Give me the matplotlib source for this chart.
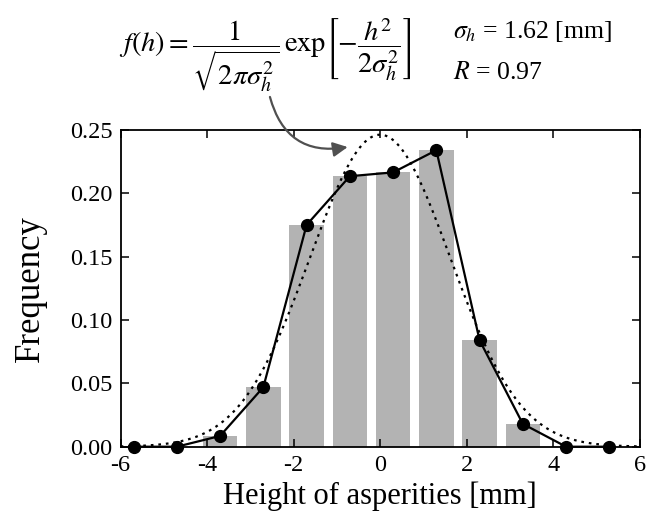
import numpy as np
import matplotlib.pyplot as plt

plt.rcParams['font.family'] = 'serif'
plt.rcParams['font.serif'] = ['Liberation Serif', 'DejaVu Serif']
plt.rcParams['mathtext.fontset'] = 'stix'
plt.rcParams['axes.unicode_minus'] = False

# measured histogram of asperity heights
heights = [-5.7, -4.7, -3.7, -2.7, -1.7, -0.7, 0.3, 1.3, 2.3, 3.3, 4.3, 5.3]
freq = [0.0, 0.0, 0.0085, 0.047, 0.175, 0.2135, 0.2165, 0.234, 0.084, 0.018, 0.0, 0.0]
sigma_h = 1.62  # fitted value printed on the chart

x_ticks = [-6, -4, -2, 0, 2, 4, 6]
y_ticks = [0.00, 0.05, 0.10, 0.15, 0.20, 0.25]

fig = plt.figure(figsize=(6.52, 5.24), dpi=100)
ax = fig.add_axes([0.185, 0.1475, 0.796, 0.6045])

ax.bar(heights, freq, width=0.8, color='#b3b3b3', zorder=1)

hh = np.linspace(-6, 6, 400)
gauss = np.exp(-hh**2 / (2 * sigma_h**2)) / np.sqrt(2 * np.pi * sigma_h**2)
ax.plot(hh, gauss, color='black', linestyle=(0, (1.2, 2.2)), linewidth=1.6, zorder=2)

ax.plot(heights, freq, color='black', linewidth=1.6, marker='o', markersize=8.5,
        zorder=3, clip_on=False)

ax.set_xlim(-6, 6)
ax.set_ylim(0, 0.25)
ax.set_xticks(x_ticks)
ax.set_yticks(y_ticks)
ax.set_yticklabels([f'{v:.2f}' for v in y_ticks])
ax.tick_params(direction='in', top=True, right=True, length=6, width=1.1,
               labelsize=17.5, pad=6)
for s in ax.spines.values():
    s.set_linewidth(1.3)

ax.set_xlabel('Height of asperities [mm]', fontsize=22, labelpad=4)
ax.set_ylabel('Frequency', fontsize=25, labelpad=16)

# formula and fit parameters
fig.text(0.182, 0.893,
         r'$f\left(h\right)=\dfrac{1}{\sqrt{2\pi\sigma_h^2}}\,\mathrm{exp}\left[-\dfrac{h^2}{2\sigma_h^2}\right]$',
         fontsize=20.5, ha='left', va='center')
fig.text(0.695, 0.94, r'$\sigma_h$ = 1.62 [mm]', fontsize=18.5, ha='left', va='center')
fig.text(0.695, 0.86, r'$R$ = 0.97', fontsize=18.5, ha='left', va='center')

ax.annotate('', xy=(-0.75, 0.2365), xycoords='data',
            xytext=(0.414, 0.815), textcoords='figure fraction',
            arrowprops=dict(arrowstyle='-|>', color='#505050', lw=1.6,
                            mutation_scale=22,
                            connectionstyle='arc3,rad=0.45',
                            shrinkA=0, shrinkB=0))

fig.savefig('out.png', dpi=100)
